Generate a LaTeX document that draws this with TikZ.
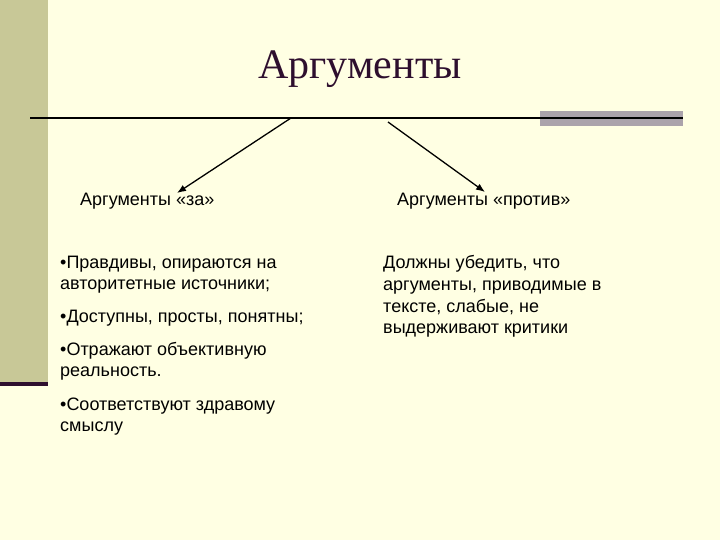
\documentclass[tikz,border=0pt]{standalone}
\usepackage{fontspec}
\setmainfont{Liberation Serif}
\newfontfamily\arialfont{Liberation Sans}
\usepackage{tikz}
\usetikzlibrary{arrows.meta}
\definecolor{slidebg}{HTML}{FFFFE3}
\definecolor{bandcol}{HTML}{C8C897}
\definecolor{plum}{HTML}{2E0F2E}
\definecolor{barcol}{HTML}{ABA3AB}
\tikzset{
  txt/.style={anchor=base west, inner sep=0pt, font=\arialfont\fontsize{18}{21}\selectfont},
  arr/.style={-{Latex[length=9pt,width=7pt]}, line width=1.3pt}
}

\begin{document}
\begin{tikzpicture}[x=1pt,y=-1pt]
        \fill[slidebg] (0,0) rectangle (720,540);
        \fill[bandcol] (0,0) rectangle (48,382);
        \fill[plum] (0,382) rectangle (48,386);
        \fill[barcol] (540,111) rectangle (683,126);
        \draw[line width=2pt] (30,118) -- (683,118);
        \node[anchor=base, inner sep=0pt, text=plum, font=\fontsize{42}{46}\selectfont] (title) at (360,79) {Аргументы};
        \coordinate (forstart) at (291,118);
        \coordinate (forend) at (177,193);
        \coordinate (contrastart) at (388,122);
        \coordinate (contraend) at (485,192);
        \draw[arr] (forstart) -- (forend);
        \draw[arr] (contrastart) -- (contraend);
        \node[txt] (forhead) at (80,206) {Аргументы «за»};
        \node[txt] (contrahead) at (397,206) {Аргументы «против»};
        \node[txt] (for1a) at (60,268) {•Правдивы, опираются на};
        \node[txt] (for1b) at (60,289) {авторитетные источники;};
        \node[txt] (for2) at (60,322) {•Доступны, просты, понятны;};
        \node[txt] (for3a) at (60,355) {•Отражают объективную};
        \node[txt] (for3b) at (60,376) {реальность.};
        \node[txt] (for4a) at (60,410) {•Соответствуют здравому};
        \node[txt] (for4b) at (60,431) {смыслу};
        \node[txt] (contra1) at (383,268) {Должны убедить, что};
        \node[txt] (contra2) at (383,290) {аргументы, приводимые в};
        \node[txt] (contra3) at (383,312) {тексте, слабые, не};
        \node[txt] (contra4) at (383,333) {выдерживают критики};
\end{tikzpicture}
\end{document}
